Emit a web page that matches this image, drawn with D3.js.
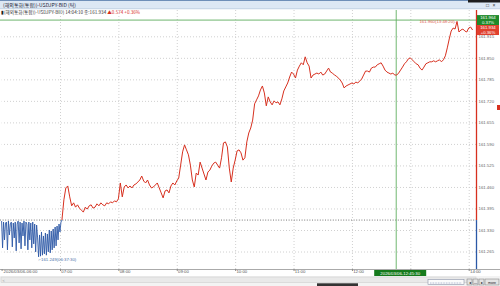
<!DOCTYPE html>
<html><head><meta charset="utf-8">
<script src="https://cdn.jsdelivr.net/npm/d3@7"></script>
<style>
body{margin:0;background:#fff;overflow:hidden}
svg{display:block;font-family:"Liberation Sans",Arial,sans-serif}
</style>
</head><body>
<svg id="c" width="500" height="286"></svg>
<script>
// ---- data (USDJPY BID ticks, 2026/03/06) ----
// 06:00 - 07:01, one sample per minute
const earlyTicks = [161.357,161.276,161.354,161.300,161.351,161.354,161.270,161.357,161.315,161.348,
161.354,161.279,161.351,161.306,161.354,161.267,161.348,161.357,161.291,161.354,
161.273,161.351,161.312,161.357,161.282,161.354,161.348,161.270,161.354,161.300,
161.351,161.276,161.354,161.288,161.348,161.264,161.345,161.306,161.249,161.315,
161.251,161.324,161.254,161.312,161.258,161.321,161.254,161.318,161.264,161.330,
161.261,161.327,161.270,161.333,161.276,161.339,161.282,161.342,161.300,161.348,
161.324,161.354];
// 07:02 - 14:04, one sample every two minutes
const lateTicks = [161.360,161.421,161.457,161.463,161.430,161.403,161.412,161.399,161.406,161.396,
161.390,161.384,161.399,161.393,161.403,161.406,161.396,161.399,161.409,161.403,
161.412,161.406,161.403,161.412,161.409,161.415,161.412,161.418,161.415,161.424,
161.472,161.430,161.460,161.466,161.457,161.463,161.457,161.466,161.469,161.475,
161.481,161.493,161.478,161.472,161.481,161.466,161.457,161.460,161.466,161.472,
161.457,161.442,161.427,161.448,161.451,161.442,161.463,161.472,161.466,161.478,
161.487,161.526,161.566,161.587,161.572,161.557,161.526,161.481,161.460,161.502,
161.496,161.535,161.517,161.499,161.481,161.505,161.511,161.523,161.532,161.535,
161.526,161.517,161.548,161.593,161.596,161.581,161.517,161.475,161.517,161.541,
161.569,161.572,161.563,161.541,161.548,161.596,161.623,161.638,161.662,161.711,
161.723,161.735,161.753,161.765,161.744,161.705,161.732,161.717,161.708,161.720,
161.714,161.717,161.708,161.726,161.750,161.762,161.774,161.792,161.807,161.801,
161.789,161.813,161.825,161.835,161.829,161.853,161.835,161.825,161.789,161.798,
161.801,161.804,161.801,161.807,161.798,161.801,161.810,161.819,161.807,161.804,
161.798,161.795,161.789,161.783,161.774,161.759,161.765,161.768,161.771,161.774,
161.771,161.777,161.774,161.780,161.786,161.798,161.810,161.810,161.807,161.819,
161.822,161.822,161.829,161.832,161.835,161.825,161.813,161.807,161.804,161.801,
161.804,161.798,161.798,161.804,161.813,161.822,161.832,161.838,161.847,161.850,
161.844,161.838,161.832,161.829,161.819,161.813,161.822,161.832,161.835,161.838,
161.838,161.841,161.838,161.841,161.844,161.838,161.844,161.856,161.880,161.907,
161.931,161.940,161.937,161.960,161.928,161.934,161.937,161.931,161.928,161.940,
161.943,161.934];

const prevClose = 161.360;
const lastPrice = 161.934;
const yTickValues = [161.265,161.330,161.395,161.460,161.525,161.590,161.655,161.720,161.785,161.850,161.915];
const hourTicks = ["06:00","07:00","08:00","09:00","10:00","11:00","12:00","13:00","14:00"];
const hourLabels = ["2026/03/06-06:00","07:00","08:00","09:00","10:00","11:00","12:00","13:00","14:00"];
const titleText = ["(해외통화(통합))-USDJPY-BID (틱)"];
const infoText = ["(해외통화(통합))-USDJPY-BID) 14:04:10 종:161.934", "▲0.574", "+0.36%"];
const highMark = ["161.960", "13:48:20"];
const lowMark = ["161.249", "06:37:30"];
const crossTime = ["2026/03/06-12:45:30"];
const crossBox = ["161.964", "0.37%"];
const lastBox = ["161.934", "+0.36%"];

// ---- build ----
const day = (hms) => { const [h,m,s] = hms.split(":").map(Number); return new Date(2026,2,6,h,m,s||0); };
const start = day("06:00");
const data = [];
earlyTicks.forEach((v,i)=>data.push({t:new Date(+start + i*60000), v}));
lateTicks.forEach((v,i)=>data.push({t:new Date(+start + (62+2*i)*60000), v}));

const svg = d3.select("#c");
const L = 1.6, R = 476, T = 18, B = 269;
const x = d3.scaleTime().domain([day("06:00"), day("14:07:30")]).range([L, R]);
const y = d3.scaleLinear().domain([161.2122, 161.9703]).range([B, T]);

const RED = "#d7301f", BLUE = "#2c58a6", GREEN = "#5fae5f";
const FONT = 4.3;

// title bars
svg.append("rect").attr("x",0).attr("y",0).attr("width",500).attr("height",9).attr("fill","#dde8f4");
svg.append("rect").attr("x",0).attr("y",0).attr("width",500).attr("height",1).attr("fill","#6f8fb8");
svg.append("rect").attr("x",0).attr("y",8.5).attr("width",500).attr("height",0.7).attr("fill","#b6c7dc");
svg.append("rect").attr("x",468).attr("y",0).attr("width",32).attr("height",2.5).attr("fill","#1e1e1e");
svg.append("text").attr("x",3).attr("y",6.6).attr("font-size",5)
  .attr("font-family","'Noto Sans CJK KR',sans-serif").attr("fill","#223").text(titleText[0]);
svg.append("text").attr("x",486).attr("y",6.5).attr("font-size",5).attr("fill","#333").text("□");
svg.append("text").attr("x",492.5).attr("y",6.5).attr("font-size",5).attr("fill","#333").text("×");

const info = svg.append("text").attr("x",1).attr("y",13.6).attr("font-size",4.6)
  .attr("font-family","'Noto Sans CJK KR',sans-serif");
info.append("tspan").attr("fill","#222").text("▮");
info.append("tspan").attr("fill","#333").text(infoText[0]+" ");
info.append("tspan").attr("fill",RED).text(infoText[1]+"  ");
info.append("tspan").attr("fill",RED).text(infoText[2]);

// grid
const gy = svg.append("g").attr("transform",`translate(${R},0)`)
  .call(d3.axisLeft(y).tickValues(yTickValues).tickSize(R-L).tickFormat(""));
gy.select(".domain").remove();
gy.selectAll("line").attr("stroke","#d0d0d0").attr("stroke-dasharray","1,2");

const gx = svg.append("g").attr("transform",`translate(0,${B})`)
  .call(d3.axisTop(x).tickValues(hourTicks.slice(1).map(day)).tickSize(B-10).tickFormat(""));
gx.select(".domain").remove();
gx.selectAll("line").attr("stroke","#d0d0d0").attr("stroke-dasharray","1,2");

// previous close line
svg.append("line").attr("x1",0).attr("x2",R).attr("y1",y(prevClose)).attr("y2",y(prevClose))
  .attr("stroke","#555").attr("stroke-width",0.8).attr("stroke-dasharray","1,1.6");

// crosshair
svg.append("line").attr("x1",0).attr("x2",R).attr("y1",y(+crossBox[0])).attr("y2",y(+crossBox[0]))
  .attr("stroke",GREEN).attr("stroke-width",0.9);
const cx = x(day(crossTime[0].split("-")[1]));
svg.append("line").attr("x1",cx).attr("x2",cx).attr("y1",10).attr("y2",B)
  .attr("stroke",GREEN).attr("stroke-width",0.9);

// price line, split at previous close
const defs = svg.append("defs");
defs.append("clipPath").attr("id","above").append("rect")
  .attr("x",0).attr("y",0).attr("width",500).attr("height",y(prevClose));
defs.append("clipPath").attr("id","below").append("rect")
  .attr("x",0).attr("y",y(prevClose)).attr("width",500).attr("height",286);
const line = d3.line().x(d=>x(d.t)).y(d=>y(d.v));
svg.append("path").datum(data).attr("d",line).attr("fill","none").attr("stroke",RED)
  .attr("stroke-width",1).attr("clip-path","url(#above)");
svg.append("path").datum(data).attr("d",line).attr("fill","none").attr("stroke",BLUE)
  .attr("stroke-width",0.9).attr("clip-path","url(#below)");

// high / low marks
const hi = data.reduce((a,b)=>b.v>a.v?b:a), lo = data.reduce((a,b)=>b.v<a.v?b:a);
svg.append("text").attr("x",x(hi.t)-1).attr("y",y(hi.v)+2).attr("text-anchor","end")
  .attr("font-size",FONT).attr("fill","#e0604f").text(`${highMark[0]}(${highMark[1]})-`);
svg.append("text").attr("x",x(lo.t)).attr("y",y(lo.v)+4).attr("font-size",FONT)
  .attr("fill","#4a6fa8").text(`⌐${lowMark[0]}(${lowMark[1]})`);

// right axis
const ay = svg.append("g").attr("transform",`translate(${R},0)`)
  .call(d3.axisRight(y).tickValues(yTickValues).tickSize(0).tickPadding(2.5).tickFormat(d3.format(".3f")));
ay.select(".domain").remove();
ay.selectAll("text").attr("font-size",FONT).attr("fill","#666");
svg.append("line").attr("x1",R+0.5).attr("x2",R+0.5).attr("y1",10).attr("y2",y(prevClose))
  .attr("stroke",RED).attr("stroke-width",1.3);
svg.append("line").attr("x1",R+0.5).attr("x2",R+0.5).attr("y1",y(prevClose)).attr("y2",B)
  .attr("stroke",BLUE).attr("stroke-width",1.3);
svg.append("rect").attr("x",497).attr("y",105).attr("width",3).attr("height",5).attr("fill",RED);

// right price boxes
const boxes = [[crossBox,"#1f8a2a", +crossBox[0]],[lastBox,"#e0402e", lastPrice]];
boxes.forEach(([txt,col,v])=>{
  const cy = y(v);
  svg.append("rect").attr("x",R+1).attr("y",cy-5).attr("width",22).attr("height",10).attr("fill",col);
  svg.append("text").attr("x",R+12).attr("y",cy-0.8).attr("text-anchor","middle").attr("font-size",FONT)
    .attr("fill","#fff").text(txt[0]);
  svg.append("text").attr("x",R+12).attr("y",cy+3.6).attr("text-anchor","middle").attr("font-size",FONT)
    .attr("fill","#fff").text(txt[1]);
});

// x axis
svg.append("line").attr("x1",0).attr("x2",500).attr("y1",B+0.5).attr("y2",B+0.5).attr("stroke","#aaa");
const ax = svg.append("g").attr("transform",`translate(0,${B})`)
  .call(d3.axisBottom(x).tickValues(hourTicks.map(day)).tickSize(2)
    .tickFormat((d,i)=>hourLabels[i]));
ax.select(".domain").remove();
ax.selectAll("line").attr("stroke","#888");
ax.selectAll("text").attr("text-anchor","start").attr("dx",0.8).attr("dy",-1.3)
  .attr("font-size",FONT).attr("fill","#555");
ax.selectAll(".tick").filter((d,i)=>i===0).select("text").attr("dx",1.5);

// crosshair time box
svg.append("rect").attr("x",cx-22).attr("y",B+1).attr("width",52).attr("height",6.5).attr("fill","#157a1c");
svg.append("text").attr("x",cx+4).attr("y",B+6).attr("text-anchor","middle").attr("font-size",FONT)
  .attr("fill","#fff").text(crossTime[0]);

// scroll bar
svg.append("rect").attr("x",0).attr("y",276).attr("width",500).attr("height",10).attr("fill","#f3f3f3");
svg.append("rect").attr("x",1).attr("y",277).attr("width",475).attr("height",5.5).attr("fill","#e9e9e9")
  .attr("stroke","#cfcfcf").attr("stroke-width",0.6);
svg.append("text").attr("x",2.5).attr("y",281.6).attr("font-size",4).attr("fill","#999").text("<");
svg.append("rect").attr("x",317).attr("y",283.3).attr("width",41).attr("height",2.7).attr("fill","#333");
svg.append("rect").attr("x",428).attr("y",279.5).attr("width",36).attr("height",5).attr("fill","#fbfbfb")
  .attr("stroke","#8b93a8").attr("stroke-width",0.6);
svg.append("line").attr("x1",430).attr("x2",462).attr("y1",283).attr("y2",283)
  .attr("stroke","#6677aa").attr("stroke-dasharray","0.8,0.8").attr("stroke-width",0.6);
[[467,5],[473,5],[479,5],[485,14]].forEach(([bx,w],i)=>{
  svg.append("rect").attr("x",bx).attr("y",279).attr("width",w).attr("height",6).attr("fill","#e4e4e4")
    .attr("stroke","#777").attr("stroke-width",0.5);
  svg.append("text").attr("x",bx+w/2).attr("y",283.6).attr("text-anchor","middle").attr("font-size",3.6)
    .attr("fill","#222").text(["◂","—","▸","more"][i]);
});
</script>
</body></html>
